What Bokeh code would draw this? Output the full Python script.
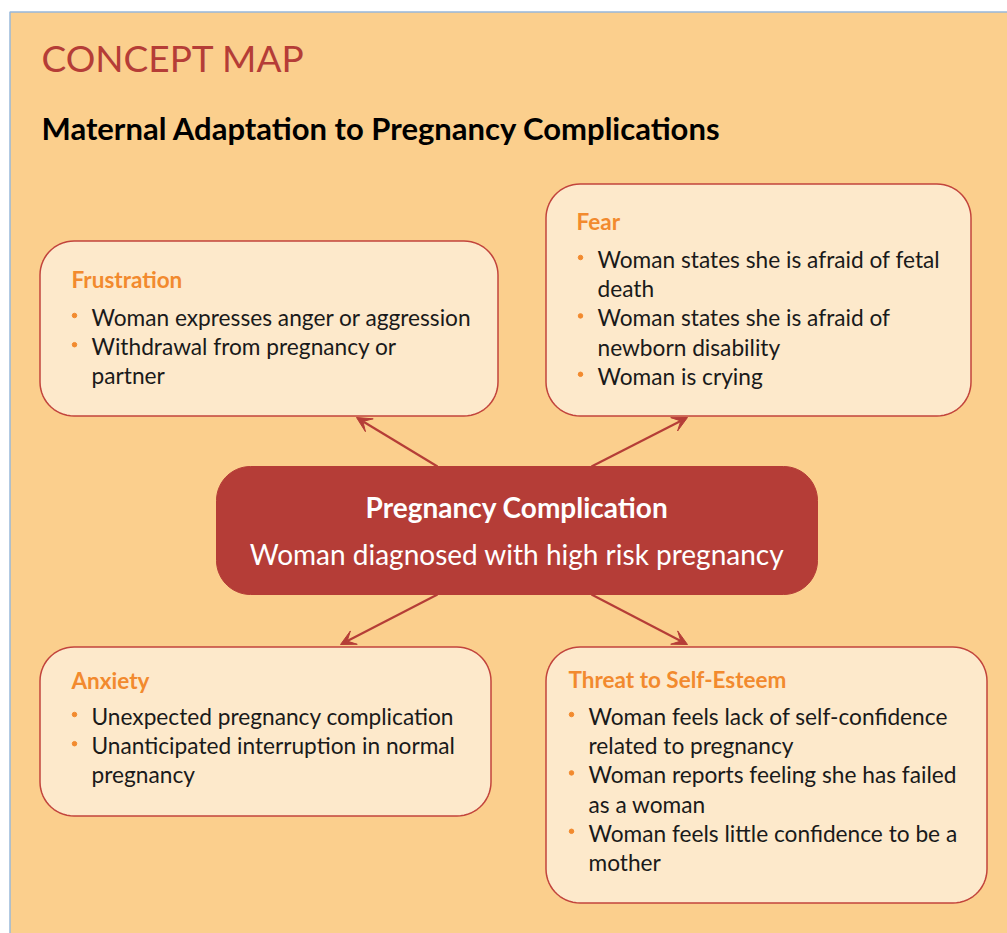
import numpy as np
from bokeh.plotting import figure
from bokeh.models import Range1d, Arrow, VeeHead
from bokeh.core.properties import value
from bokeh.embed import file_html
from bokeh.resources import INLINE

# ---- content ----
title = "CONCEPT MAP"
subtitle = "Maternal Adaptation to Pregnancy Complications"
center_title = "Pregnancy Complication"
center_text = "Woman diagnosed with high risk pregnancy"

box_names = ["Frustration", "Fear", "Anxiety", "Threat to Self-Esteem"]
frustration_items = [["Woman expresses anger or aggression"],
                     ["Withdrawal from pregnancy or", "partner"]]
fear_items = [["Woman states she is afraid of fetal", "death"],
              ["Woman states she is afraid of", "newborn disability"],
              ["Woman is crying"]]
anxiety_items = [["Unexpected pregnancy complication"],
                 ["Unanticipated interruption in normal", "pregnancy"]]
threat_items = [["Woman feels lack of self-confidence", "related to pregnancy"],
                ["Woman reports feeling she has failed", "as a woman"],
                ["Woman feels little confidence to be a", "mother"]]

# ---- layout (pixel coordinates of the page) ----
FONT = "Lato"
RED = "#B53D37"
ORANGE = "#F28A2E"
PANEL = "#FBCF8D"
CREAM = "#FDE9CB"
BORDER = "#C2443C"
ADJ = 0.35  # baseline correction factor

W, H = 1007, 933
p = figure(width=W, height=H, x_range=Range1d(0, W), y_range=Range1d(H, 0),
           output_backend="svg", toolbar_location=None, min_border=0)
p.axis.visible = False
p.grid.visible = False
p.outline_line_color = None
p.background_fill_color = "white"
p.border_fill_color = "white"

# panel
p.quad(left=[9.5], right=[1020], top=[11.5], bottom=[945], fill_color=PANEL,
       line_color="#98B8DA", line_width=1.5)


def rrect(x0, y0, x1, y1, r, n=16):
    xs, ys = [], []
    for cx, cy, a0, a1 in [(x0 + r, y0 + r, np.pi, 1.5 * np.pi),
                           (x1 - r, y0 + r, 1.5 * np.pi, 2 * np.pi),
                           (x1 - r, y1 - r, 0, 0.5 * np.pi),
                           (x0 + r, y1 - r, 0.5 * np.pi, np.pi)]:
        t = np.linspace(a0, a1, n)
        xs += list(cx + r * np.cos(t))
        ys += list(cy + r * np.sin(t))
    return xs, ys


boxes = {
    "Frustration": (39.5, 240.5, 497.5, 415.5),
    "Fear": (545.5, 183.5, 970.5, 415.5),
    "Anxiety": (39.5, 646.5, 490.5, 815.5),
    "Threat to Self-Esteem": (545.5, 646.5, 986.5, 902.5),
}
center_box = (216, 466, 817, 594)

# arrows (drawn first so boxes cover their ends)
arrows = [((437, 466), (356, 417)), ((591, 466), (687, 417)),
          ((437, 594), (340, 644)), ((591, 594), (687, 644))]
for (xs_, ys_), (xe, ye) in arrows:
    p.add_layout(Arrow(end=VeeHead(size=15, line_color=RED, fill_color=RED, line_width=1),
                       x_start=xs_, y_start=ys_, x_end=xe, y_end=ye,
                       line_color=RED, line_width=2.2))

bxs, bys = [], []
for name in box_names:
    x, y = rrect(*boxes[name], 34)
    bxs.append(x)
    bys.append(y)
p.patches(bxs, bys, fill_color=CREAM, line_color=BORDER, line_width=1.5)

cx, cy = rrect(*center_box, 34)
p.patch(cx, cy, fill_color=RED, line_color=RED, line_width=1)


def txt(xs, ys, texts, fs, color, bold=False, align="left"):
    p.text(x=xs, y=[y - ADJ * fs for y in ys], text=texts, text_font=value(FONT),
           text_font_size=f"{fs}px", text_font_style="bold" if bold else "normal",
           text_color=color, text_align=align, text_baseline="alphabetic")


# titles
txt([41], [70], [title], 37, RED)
txt([41], [138], [subtitle], 31, "black", bold=True)

# center
cxm = (center_box[0] + center_box[2]) / 2
txt([cxm], [516], [center_title], 28, "white", bold=True, align="center")
txt([cxm], [563], [center_text], 28, "white", align="center")

# box contents
settings = {
    "Frustration": (frustration_items, 71, 287, 91, 325),
    "Fear": (fear_items, 576, 229, 597, 267),
    "Anxiety": (anxiety_items, 71, 688, 91, 724),
    "Threat to Self-Esteem": (threat_items, 568, 687, 588, 724),
}
LH = 29.2
hx, hy, ht = [], [], []
lx, ly, lt = [], [], []
dx, dy = [], []
for name in box_names:
    items, hx0, hy0, tx, ty = settings[name]
    hx.append(hx0); hy.append(hy0); ht.append(name)
    k = 0
    for item in items:
        dx.append(tx - 17); dy.append(ty + k * LH - 10)
        for line in item:
            lx.append(tx); ly.append(ty + k * LH); lt.append(line)
            k += 1

txt(hx, hy, ht, 22.5, ORANGE, bold=True)
txt(lx, ly, lt, 22.7, "#1a1a1a")
p.scatter(x=dx, y=dy, size=4.5, color=ORANGE, marker="circle")

open("out.html", "w").write(file_html(p, INLINE))
